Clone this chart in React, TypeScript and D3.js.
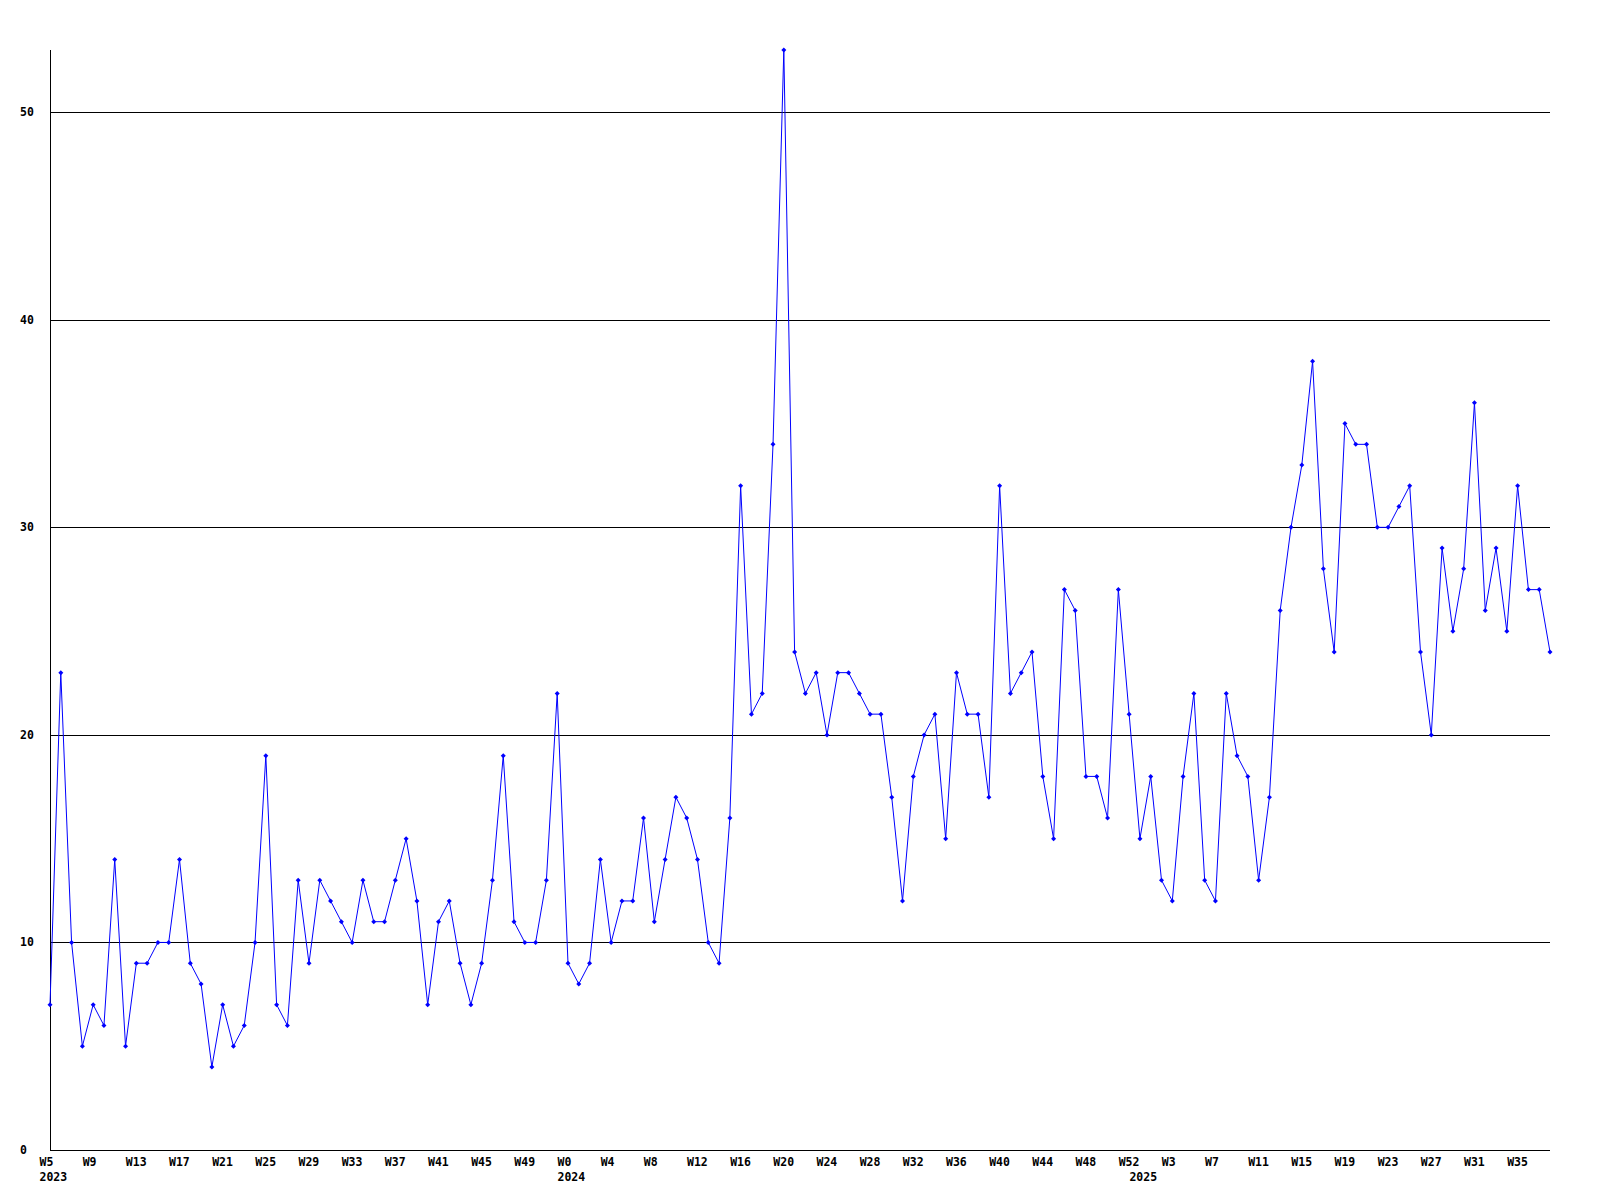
import React from "react";
import * as d3 from "d3";

// Weekly counts
const values2023: number[] = [
  7, 23, 10, 5, 7, 6, 14, 5, 9, 9, 10, 10, 14, 9, 8, 4, 7, 5, 6, 10, 19, 7, 6, 13,
  9, 13, 12, 11, 10, 13, 11, 11, 13, 15, 12, 7, 11, 12, 9, 7, 9, 13, 19, 11, 10, 10,
  13, 22,
];
const values2024: number[] = [
  9, 8, 9, 14, 10, 12, 12, 16, 11, 14, 17, 16, 14, 10, 9, 16, 32, 21, 22, 34, 53, 24,
  22, 23, 20, 23, 23, 22, 21, 21, 17, 12, 18, 20, 21, 15, 23, 21, 21, 17, 32, 22, 23,
  24, 18, 15, 27, 26, 18, 18, 16, 27, 21,
];
const values2025: number[] = [
  15, 18, 13, 12, 18, 22, 13, 12, 22, 19, 18, 13, 17, 26, 30, 33, 38, 28, 24, 35, 34,
  34, 30, 30, 31, 32, 24, 20, 29, 25, 28, 36, 26, 29, 25, 32, 27, 27, 24,
];
const years: number[] = [2023, 2024, 2025];
const startWeeks: number[] = [5, 0, 0];
const yTicks: number[] = [0, 10, 20, 30, 40, 50];
const tickEvery = 4;

type Pt = { i: number; year: number; week: number; value: number; firstOfYear: boolean };

const seriesByYear = [values2023, values2024, values2025];
const points: Pt[] = [];
seriesByYear.forEach((vals, yi) => {
  vals.forEach((v, k) => {
    points.push({
      i: points.length,
      year: years[yi],
      week: startWeeks[yi] + k,
      value: v,
      firstOfYear: k === 0,
    });
  });
});

const W = 1600;
const H = 1200;
const left = 50;
const right = 1550;
const top = 50;
const bottom = 1150;

export default function App() {
  const x = d3.scaleLinear().domain([0, points.length - 1]).range([left, right]);
  const y = d3.scaleLinear().domain([0, 53]).range([bottom, top]);
  const line = d3
    .line<Pt>()
    .x((d) => x(d.i))
    .y((d) => y(d.value));
  const font = "'DejaVu Sans Mono', monospace";
  const diamond = (cx: number, cy: number) =>
    `M${cx},${cy - 2.5}L${cx + 2.5},${cy}L${cx},${cy + 2.5}L${cx - 2.5},${cy}Z`;

  return (
    <svg
      width={W}
      height={H}
      style={{ position: "absolute", left: 0, top: 0, background: "#fff" }}
    >
      <rect x={0} y={0} width={W} height={H} fill="#fff" />
      {/* gridlines */}
      {yTicks.map((t) => {
        const yy = Math.round(y(t)) + 0.5;
        return (
          <g key={t}>
            {t > 0 && (
              <line x1={left} x2={right} y1={yy} y2={yy} stroke="#000" strokeWidth={1} shapeRendering="crispEdges" />
            )}
            <text
              x={20}
              y={y(t) + 4}
              fontFamily={font}
              fontWeight="bold"
              fontSize={11.5}
              fill="#000"
            >
              {t}
            </text>
          </g>
        );
      })}
      {/* axes */}
      <line x1={left + 0.5} x2={left + 0.5} y1={top} y2={bottom + 0.5} stroke="#000" strokeWidth={1} shapeRendering="crispEdges" />
      <line x1={left} x2={right} y1={bottom + 0.5} y2={bottom + 0.5} stroke="#000" strokeWidth={1} shapeRendering="crispEdges" />
      {/* x labels */}
      {points.map((p) => (
        <g key={"xl" + p.i}>
          {p.i % tickEvery === 0 && (
            <text
              x={x(p.i) - 10.5}
              y={1166}
              fontFamily={font}
              fontWeight="bold"
              fontSize={11.5}
              fill="#000"
            >
              {"W" + p.week}
            </text>
          )}
          {p.firstOfYear && (
            <text
              x={x(p.i) - 10.5}
              y={1181}
              fontFamily={font}
              fontWeight="bold"
              fontSize={11.5}
              fill="#000"
            >
              {p.year}
            </text>
          )}
        </g>
      ))}
      {/* series */}
      <path d={line(points) || ""} fill="none" stroke="#0000ff" strokeWidth={1} />
      {points.map((p) => (
        <path key={"m" + p.i} d={diamond(x(p.i), y(p.value))} fill="#0000ff" />
      ))}
    </svg>
  );
}
